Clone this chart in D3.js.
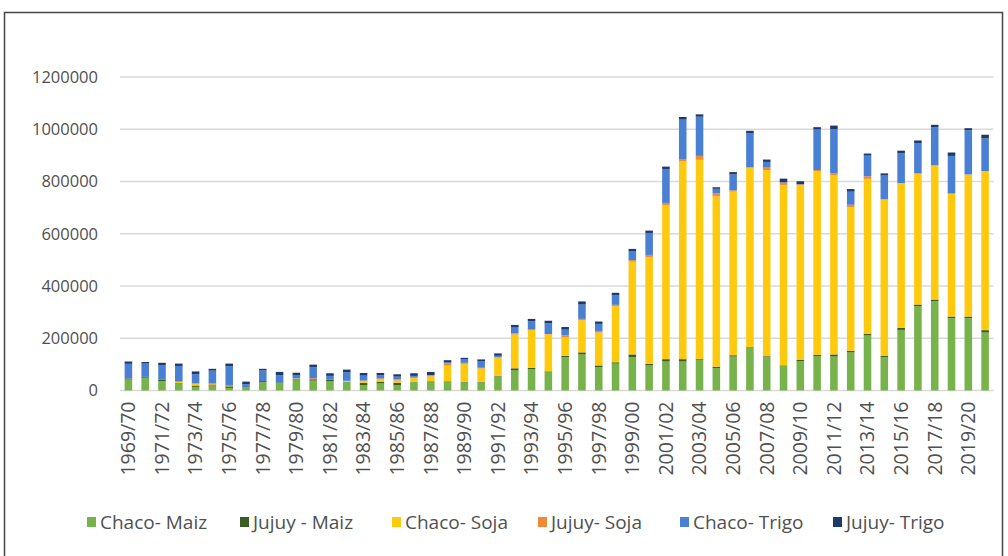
<!DOCTYPE html>
<meta charset="utf-8">
<style>
    body { margin: 0; background: #fff; }
    text { font-family: "Open Sans", sans-serif; fill: #505050; }
</style>
<svg width="1008" height="556"></svg>
<script src="https://d3js.org/d3.v7.min.js"></script>
<script>

    var years = ["1969/70","1970/71","1971/72","1972/73","1973/74","1974/75","1975/76","1976/77","1977/78","1978/79",
        "1979/80","1980/81","1981/82","1982/83","1983/84","1984/85","1985/86","1986/87","1987/88","1988/89",
        "1989/90","1990/91","1991/92","1992/93","1993/94","1994/95","1995/96","1996/97","1997/98","1998/99",
        "1999/00","2000/01","2001/02","2002/03","2003/04","2004/05","2005/06","2006/07","2007/08","2008/09",
        "2009/10","2010/11","2011/12","2012/13","2013/14","2014/15","2015/16","2016/17","2017/18","2018/19",
        "2019/20","2020/21"];

    var seriesNames = ["Chaco- Maiz", "Jujuy - Maiz", "Chaco- Soja", "Jujuy- Soja", "Chaco- Trigo", "Jujuy- Trigo"];
    var seriesColors = ["#77b24b", "#3a5e22", "#ffc90e", "#f08a36", "#4a80d4", "#1d3a6b"];

    var chacoMaiz = [42000,49000,36000,27000,14000,17000,10000,10000,32000,28000,
        40000,38000,35000,32000,20000,27000,20000,32000,35000,35000,
        31000,31000,54000,77000,82000,73000,128000,138000,90000,103000,
        128000,96000,111000,111000,118000,86000,130000,165000,128000,96000,
        112000,132000,130000,146000,211000,128000,232000,323000,342000,277000,
        277000,222000];
    var jujuyMaiz = [4000,3000,5000,2000,5000,3000,6000,1000,4000,3000,
        3000,5000,6000,1000,9000,7000,10000,1000,1000,1000,
        2000,2000,2000,8000,5000,1000,5000,8000,6000,5000,
        10000,6000,9000,9000,3000,5000,5000,2000,3000,1000,
        5000,4000,8000,6000,6000,4000,8000,6000,6000,6000,
        6000,9000];
    var chacoSoja = [0,0,0,4000,7000,2000,1000,0,0,0,
        3000,0,0,4000,6000,8000,8000,14000,18000,59000,
        69000,51000,70000,129000,145000,141000,70000,123000,126000,215000,
        355000,409000,589000,757000,762000,652000,626000,686000,713000,689000,
        668000,703000,687000,550000,593000,599000,553000,501000,513000,470000,
        543000,608000];
    var jujuySoja = [0,0,0,1000,1000,5000,4000,0,0,0,
        0,4000,0,0,3000,4000,5000,5000,4000,8000,
        4000,3000,1000,5000,1000,1000,8000,5000,6000,5000,
        6000,8000,9000,9000,15000,12000,5000,1000,9000,10000,
        4000,5000,6000,9000,10000,1000,1000,1000,1000,1000,
        1000,1000];
    var chacoTrigo = [56000,51000,55000,60000,35000,49000,72000,13000,41000,28000,
        13000,42000,15000,33000,19000,12000,10000,4000,1000,5000,
        13000,24000,6000,22000,32000,41000,22000,55000,27000,37000,
        33000,84000,130000,151000,150000,17000,61000,130000,22000,1000,
        1000,155000,170000,50000,79000,91000,114000,116000,146000,144000,
        169000,125000];
    var jujuyTrigo = [9000,6000,10000,9000,11000,7000,10000,10000,6000,12000,
        9000,10000,10000,10000,10000,9000,9000,10000,12000,8000,
        6000,8000,9000,10000,9000,10000,10000,12000,9000,9000,
        10000,9000,9000,10000,9000,6000,9000,10000,9000,14000,
        11000,9000,13000,10000,8000,8000,10000,10000,9000,13000,
        8000,14000];

    var yTicks = [0, 200000, 400000, 600000, 800000, 1000000, 1200000];

    var seriesValues = [chacoMaiz, jujuyMaiz, chacoSoja, jujuySoja, chacoTrigo, jujuyTrigo];

    // table for d3.stack
    var table = years.map(function(y, i) {
        var row = {year: y};
        seriesNames.forEach(function(s, k) { row[s] = seriesValues[k][i]; });
        return row;
    });

    var svg = d3.select("svg"),
        margin = {top: 77, right: 14.5, bottom: 165.5, left: 120},
        width = svg.attr("width") - margin.left - margin.right,
        height = svg.attr("height") - margin.top - margin.bottom;

    // outer frame
    svg.append("rect")
        .attr("x", 4.5).attr("y", 12.5)
        .attr("width", 998).attr("height", 560)
        .attr("fill", "none")
        .attr("stroke", "#444")
        .attr("stroke-width", 1.5);

    var g = svg.append("g").attr("transform", "translate(" + margin.left + "," + margin.top + ")");

    var x = d3.scaleBand().domain(years).range([0, width]).paddingInner(0.55).paddingOuter(0.275),
        y = d3.scaleLinear().domain([0, 1200000]).range([height, 0]),
        z = d3.scaleOrdinal().domain(seriesNames).range(seriesColors);

    // gridlines
    g.append("g")
        .selectAll("line")
        .data(yTicks)
        .enter().append("line")
        .attr("x1", 0).attr("x2", width)
        .attr("y1", function(d) { return y(d); })
        .attr("y2", function(d) { return y(d); })
        .attr("stroke", "#d9d9d9")
        .attr("stroke-width", 1.5);

    // y axis labels
    var yAxis = g.append("g")
        .call(d3.axisLeft(y).tickValues(yTicks).tickSize(0).tickPadding(22).tickFormat(d3.format("d")));
    yAxis.select(".domain").remove();
    yAxis.selectAll("text")
        .style("font-size", "16.5px")
        .attr("fill", "#505050");

    var stacked = d3.stack().keys(seriesNames)(table);

    g.append("g")
        .selectAll("g")
        .data(stacked)
        .enter().append("g")
        .attr("fill", function(d) { return z(d.key); })
        .selectAll("rect")
        .data(function(d) { return d; })
        .enter().append("rect")
        .attr("x", function(d) { return x(d.data.year); })
        .attr("y", function(d) { return y(d[1]); })
        .attr("height", function(d) { return y(d[0]) - y(d[1]); })
        .attr("width", x.bandwidth());

    // x axis
    var xAxis = g.append("g")
        .attr("transform", "translate(0," + height + ")")
        .call(d3.axisBottom(x)
            .tickValues(years.filter(function(d, i) { return i % 2 === 0; }))
            .tickSize(0));
    xAxis.select(".domain").remove();
    xAxis.selectAll("text")
        .attr("transform", "rotate(-90)")
        .attr("text-anchor", "end")
        .attr("x", -11)
        .attr("y", 0)
        .attr("dy", "0.35em")
        .style("font-size", "19.5px")
        .attr("fill", "#505050");

    // legend
    var legendX = [87, 240, 392, 538, 680, 833];
    var legend = svg.append("g")
        .selectAll("g")
        .data(seriesNames)
        .enter().append("g")
        .attr("transform", function(d, i) { return "translate(" + legendX[i] + ",522)"; });

    legend.append("rect")
        .attr("x", 0).attr("y", -5)
        .attr("width", 9).attr("height", 10)
        .attr("fill", function(d) { return z(d); });

    legend.append("text")
        .attr("x", 13)
        .attr("dy", "0.35em")
        .style("font-size", "19px")
        .text(function(d) { return d; });

</script>
